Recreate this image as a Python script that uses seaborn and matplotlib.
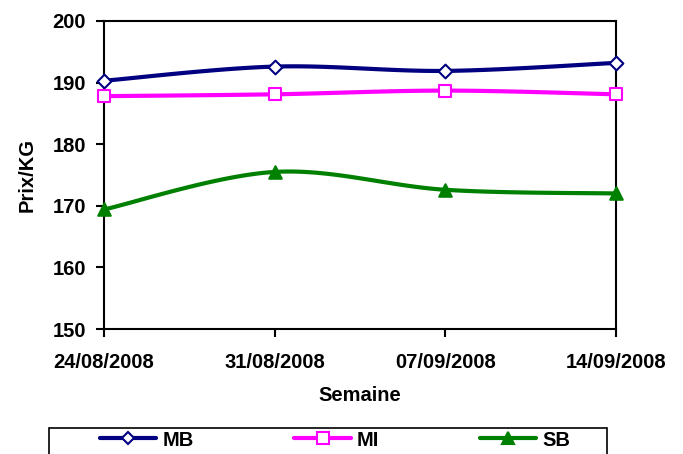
import numpy as np
import pandas as pd
import matplotlib
matplotlib.use("Agg")
import matplotlib.pyplot as plt
import seaborn as sns

# %% data
semaines = ["24/08/2008", "31/08/2008", "07/09/2008", "14/09/2008"]
mb = [190.3, 192.6, 191.9, 193.2]
mi = [187.8, 188.1, 188.7, 188.1]
sb = [169.4, 175.5, 172.6, 172.0]

series = {"MB": mb, "MI": mi, "SB": sb}
colors = {"MB": "#000080", "MI": "#FF00FF", "SB": "#008000"}
markers = {"MB": "D", "MI": "s", "SB": "^"}
faces = {"MB": "white", "MI": "white", "SB": "#008000"}
msizes = {"MB": 7, "MI": 9, "SB": 9}

df = pd.DataFrame(series)
df["x"] = np.arange(len(semaines))


# %% smoothed line like excel (catmull-rom bezier)
def smooth(x, y, n=30):
    x = np.asarray(x, float)
    y = np.asarray(y, float)
    px = np.concatenate([[x[0]], x, [x[-1]]])
    py = np.concatenate([[y[0]], y, [y[-1]]])
    xs, ys = [], []
    t = np.linspace(0, 1, n)
    for i in range(1, len(px) - 2):
        p0 = np.array([px[i], py[i]])
        p3 = np.array([px[i + 1], py[i + 1]])
        c1 = p0 + (np.array([px[i + 1], py[i + 1]]) - np.array([px[i - 1], py[i - 1]])) / 6
        c2 = p3 - (np.array([px[i + 2], py[i + 2]]) - np.array([px[i], py[i]])) / 6
        b = ((1 - t) ** 3)[:, None] * p0 + (3 * (1 - t) ** 2 * t)[:, None] * c1 \
            + (3 * (1 - t) * t ** 2)[:, None] * c2 + (t ** 3)[:, None] * p3
        xs.append(b[:, 0])
        ys.append(b[:, 1])
    return np.concatenate(xs), np.concatenate(ys)


# %% plot
sns.set_style("white")
plt.rcParams["font.family"] = ["Liberation Sans", "DejaVu Sans"]
plt.rcParams["font.weight"] = "bold"
plt.rcParams["text.color"] = "black"
plt.rcParams["axes.labelcolor"] = "black"

fs = 14.5

fig = plt.figure(figsize=(6.83, 4.54), dpi=100)
ax = fig.add_axes([104 / 683, 1 - 329 / 454, 512 / 683, 308 / 454])

for name in series:
    sx, sy = smooth(df["x"], df[name])
    sns.lineplot(x=sx, y=sy, ax=ax, color=colors[name], linewidth=3,
                 sort=False, estimator=None, clip_on=False)
    sns.scatterplot(x=df["x"], y=df[name], ax=ax, marker=markers[name],
                    s=msizes[name] ** 2, color=faces[name],
                    edgecolor=colors[name], linewidth=1.5, zorder=5,
                    clip_on=False)

ax.set_xlim(0, len(semaines) - 1)
ax.set_ylim(150, 200)
ax.set_yticks(range(150, 201, 10))
ax.set_xticks(df["x"])
ax.set_xticklabels(semaines)
ax.tick_params(axis="both", direction="out", length=6, width=1.5,
               labelsize=fs, left=True, bottom=True, colors="black")
ax.tick_params(axis="x", pad=11)
ax.tick_params(axis="y", pad=7)
for lab in ax.get_xticklabels() + ax.get_yticklabels():
    lab.set_fontweight("bold")
for sp in ax.spines.values():
    sp.set_visible(True)
    sp.set_color("black")
    sp.set_linewidth(1.5)

ax.set_xlabel("Semaine", fontsize=fs, fontweight="bold")
ax.set_ylabel("Prix/KG", fontsize=fs, fontweight="bold")
ax.xaxis.set_label_coords(0.5, (329 - 386) / 308)
ax.yaxis.set_label_coords((37 - 104) / 512, 0.5)

# legend box (drawn separately so the entries sit like excel)
fig.add_artist(plt.Rectangle((49 / 683, -0.05), 558 / 683, 0.05 + 1 - 428 / 454,
                             transform=fig.transFigure, fill=False,
                             edgecolor="black", linewidth=1.2))
handles = [plt.Line2D([], [], color=colors[n], linewidth=3, marker=markers[n],
                      markersize=msizes[n] - 1, markerfacecolor=faces[n],
                      markeredgecolor=colors[n], markeredgewidth=1.5)
           for n in series]
leg = fig.legend(handles, list(series), loc="center left", ncol=3,
                 bbox_to_anchor=(100 / 683, 1 - 440 / 454),
                 frameon=False, handlelength=2.8, handletextpad=0.3,
                 columnspacing=5.0, prop={"weight": "bold", "size": fs},
                 borderpad=0, borderaxespad=0)

plt.savefig("out.png", dpi=100)
